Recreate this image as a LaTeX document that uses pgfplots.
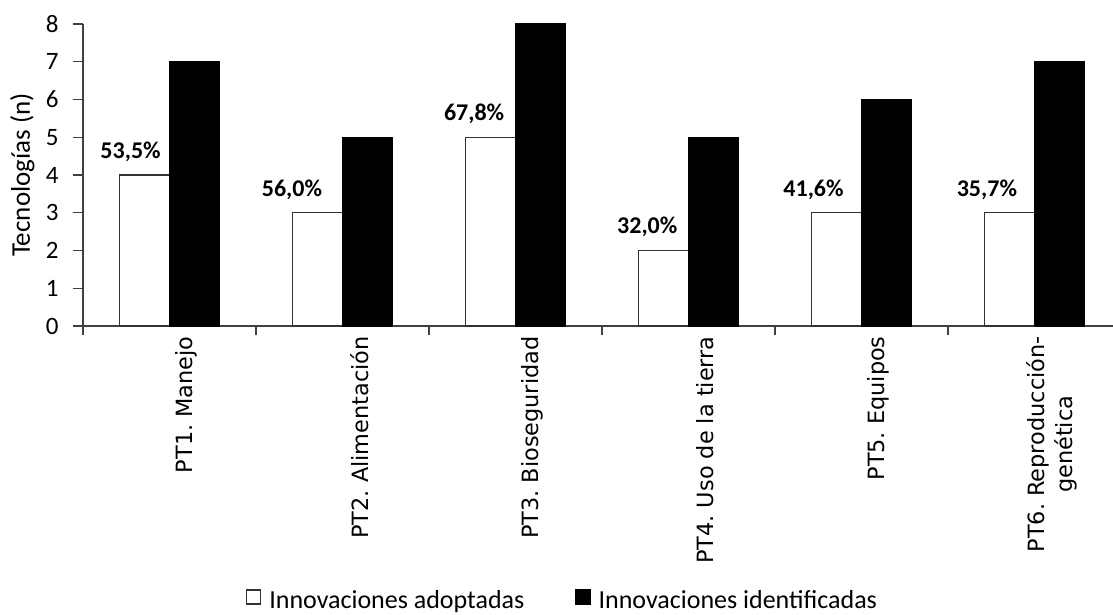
\documentclass[border=0pt]{standalone}
\usepackage{fontspec}
\setmainfont{Carlito}
\newfontfamily\dejavu{DejaVu Sans}
\usepackage{pgfplots}
\usepackage{pgfplotstable}
\pgfplotsset{compat=1.18}

\pgfplotstableread{
x a b
0 4 7
1 3 5
2 5 8
3 2 5
4 3 6
5 3 7
}\datatab

\pgfplotstableread{
x y lab
-0.225 4 53,5\%
0.708 3 56,0\%
1.761 5 67,8\%
2.762 2 32,0\%
3.723 3 41,6\%
4.725 3 35,7\%
}\labtab

\begin{document}
\frenchspacing
\begin{tikzpicture}
\begin{axis}[
  scale only axis,
  width=515pt, height=151pt,
  xmin=-0.5, xmax=5.454, ymin=0, ymax=8,
  axis x line=bottom, axis y line=left,
  axis line style={-, black!75, line width=0.6pt},
  tick align=outside,
  ytick={0,1,...,8},
  xtick={0,...,5},
  xticklabels={{PT1. Manejo},{PT2. Alimentación},{PT3. Bioseguridad},{PT4. Uso de la tierra},{PT5. Equipos},{PT6. Reproducción-\\genética}},
  minor xtick={-0.5,0.5,...,4.5},
  major x tick style={draw=none},
  minor x tick style={black!75, line width=0.6pt},
  minor tick length=4.5pt,
  major tick length=5pt,
  ytick style={black!75, line width=0.6pt},
  tick label style={font=\fontsize{12.5}{15}\selectfont},
  xticklabel style={rotate=90, anchor=east, align=center, inner sep=0pt, font=\dejavu\fontsize{11.2}{14}\selectfont, yshift=-8.5pt},
  yticklabel style={font=\fontsize{12.5}{15}\selectfont, anchor=east, inner sep=0pt, xshift=-7pt, /pgf/number format/assume math mode=true},
  ylabel={Tecnologías (n)},
  ylabel style={at={(axis description cs:-0.0515,0.5)}, anchor=base, inner sep=0pt, font=\fontsize{13.5}{16}\selectfont},
  legend style={at={(axis description cs:0.4646,-0.8725)}, anchor=north, draw=none, fill=none, inner sep=0pt, outer sep=0pt,
    font=\fontsize{13}{15}\selectfont, legend columns=2,
    /tikz/every odd column/.append style={column sep=4pt},
    /tikz/every even column/.append style={column sep=25.5pt},
    nodes={inner sep=0pt}},
  legend image code/.code={\draw[#1] (0pt,-1.5pt) rectangle (7pt,5.5pt);},
  clip=false,
]
\addplot[ybar, bar width=25pt, bar shift=-12.5pt, fill=white, draw=black!80, line width=0.6pt] table[x=x, y=a] {\datatab};
\addlegendentry{Innovaciones adoptadas}
\addplot[ybar, bar width=25pt, bar shift=12.5pt, fill=black, draw=black, line width=0.6pt] table[x=x, y=b] {\datatab};
\addlegendentry{Innovaciones identificadas}
\addplot[draw=none, mark=none, nodes near coords, point meta=explicit symbolic,
  every node near coord/.append style={anchor=base, yshift=8.3pt, inner sep=0pt, font=\fontsize{12}{14}\selectfont\bfseries}]
  table[x=x, y=y, meta=lab] {\labtab};
\end{axis}
\pgfresetboundingbox
\path (-41.5pt,-144.5pt) rectangle (515pt,163pt);
\end{tikzpicture}
\end{document}
